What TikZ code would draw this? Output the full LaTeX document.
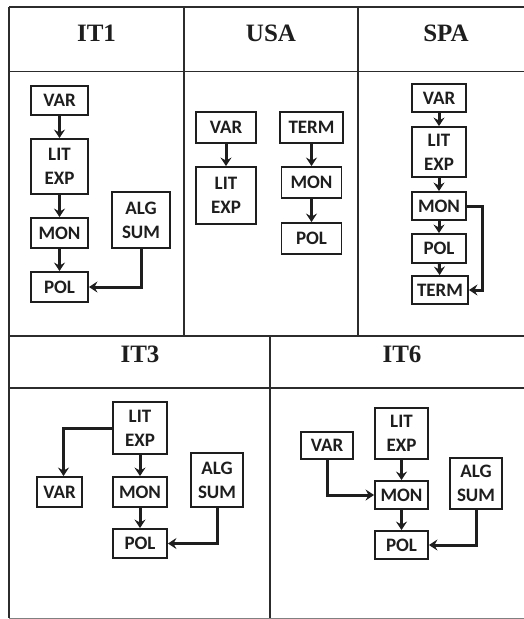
\documentclass[tikz,border=0pt]{standalone}
\usepackage{fontspec}
\newfontfamily\boxfont{Carlito}
\newfontfamily\hdrfont{Liberation Serif}
\usetikzlibrary{arrows.meta}
\definecolor{ink}{HTML}{1E1E1E}
\definecolor{rule}{HTML}{2C2C2C}
\begin{document}
\begin{tikzpicture}[x=1pt,y=-1pt,
  box/.style={draw=ink,line width=1.9pt,inner sep=0pt,align=center,text=ink,
    font=\boxfont\bfseries\fontsize{19}{24}\selectfont},
  hdr/.style={anchor=base,text=ink,font=\hdrfont\bfseries\fontsize{25}{29}\selectfont},
  arr/.style={draw=ink,line width=3pt,-{Stealth[length=8.5pt,width=11pt,inset=3pt]}},
  tline/.style={draw=rule,line width=1.9pt}]
\useasboundingbox[fill=white] (0,0) rectangle (524,619);
% table
\draw[tline] (9,7) -- (524,7);
\draw[tline] (9,71.5) -- (524,71.5);
\draw[tline] (9,336) -- (524,336);
\draw[tline] (9,388) -- (524,388);
\draw[draw=gray,line width=1pt] (9,618) -- (524,618);
\draw[tline] (9,7) -- (9,618);
\draw[tline] (184,7) -- (184,336);
\draw[tline] (358,7) -- (358,336);
\draw[tline] (270,336) -- (270,618);
% headers
\node[hdr] (h1) at (96.5,41) {IT1};
\node[hdr] (h2) at (271,41) {USA};
\node[hdr] (h3) at (446,41) {SPA};
\node[hdr] (h4) at (140,362.5) {IT3};
\node[hdr] (h5) at (402,362.5) {IT6};
% IT1
\node[box,minimum width=57pt,minimum height=29pt] (var1) at (59.5,100.5) {VAR};
\node[box,minimum width=57pt,minimum height=55pt] (lit1) at (59.5,166.5) {LIT\\EXP};
\node[box,minimum width=57pt,minimum height=30pt] (mon1) at (59.5,233) {MON};
\node[box,minimum width=57pt,minimum height=30pt] (pol1) at (59.5,287) {POL};
\node[box,minimum width=58pt,minimum height=56pt] (alg1) at (141,220) {ALG\\SUM};
\draw[arr] (var1) -- (lit1);
\draw[arr] (lit1) -- (mon1);
\draw[arr] (mon1) -- (pol1);
\draw[arr] (alg1.south) |- (pol1.east);
% USA
\node[box,minimum width=60pt,minimum height=31pt] (var2) at (226,127.5) {VAR};
\node[box,minimum width=60pt,minimum height=57pt] (lit2) at (226,195.5) {LIT\\EXP};
\node[box,minimum width=63pt,minimum height=31pt] (term2) at (311.5,127.5) {TERM};
\node[box,minimum width=60pt,minimum height=31pt] (mon2) at (311.5,182.5) {MON};
\node[box,minimum width=60pt,minimum height=31pt] (pol2) at (311.5,238.5) {POL};
\draw[arr] (var2) -- (lit2);
\draw[arr] (term2) -- (mon2);
\draw[arr] (mon2) -- (pol2);
% SPA
\node[box,minimum width=54pt,minimum height=28pt] (var3) at (439,98) {VAR};
\node[box,minimum width=54pt,minimum height=50pt] (lit3) at (439,152) {LIT\\EXP};
\node[box,minimum width=54pt,minimum height=28pt] (mon3) at (439,206) {MON};
\node[box,minimum width=54pt,minimum height=29pt] (pol3) at (439,248.5) {POL};
\node[box,minimum width=56pt,minimum height=28pt] (term3) at (440,290) {TERM};
\coordinate (c3) at (482,206);
\draw[arr] (var3) -- (lit3);
\draw[arr] (lit3) -- (mon3);
\draw[arr] (mon3) -- (pol3);
\draw[arr] (pol3) -- (term3);
\draw[arr] (mon3.east) -- (c3) |- (term3.east);
% IT3
\node[box,minimum width=54pt,minimum height=52pt] (lit4) at (140,428) {LIT\\EXP};
\node[box,minimum width=45pt,minimum height=30pt] (var4) at (59.5,492) {VAR};
\node[box,minimum width=54pt,minimum height=30pt] (mon4) at (140,492) {MON};
\node[box,minimum width=54pt,minimum height=29pt] (pol4) at (140,543.5) {POL};
\node[box,minimum width=52pt,minimum height=54pt] (alg4) at (217,480) {ALG\\SUM};
\draw[arr] (lit4.west) -| ([xshift=4pt]var4.north);
\draw[arr] (lit4) -- (mon4);
\draw[arr] (mon4) -- (pol4);
\draw[arr] (alg4.south) |- (pol4.east);
% IT6
\node[box,minimum width=52pt,minimum height=27pt] (var5) at (327,445.5) {VAR};
\node[box,minimum width=53pt,minimum height=51pt] (lit5) at (401.5,433.5) {LIT\\EXP};
\node[box,minimum width=53pt,minimum height=28pt] (mon5) at (401.5,495) {MON};
\node[box,minimum width=53pt,minimum height=28pt] (pol5) at (401.5,545) {POL};
\node[box,minimum width=52pt,minimum height=51pt] (alg5) at (476,483.5) {ALG\\SUM};
\draw[arr] (var5.south) |- (mon5.west);
\draw[arr] (lit5) -- (mon5);
\draw[arr] (mon5) -- (pol5);
\draw[arr] (alg5.south) |- (pol5.east);
\end{tikzpicture}
\end{document}
